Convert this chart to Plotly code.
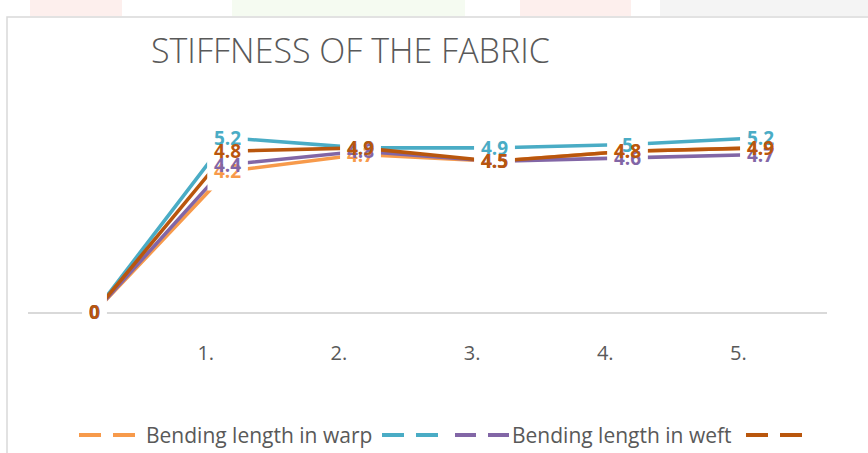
import plotly.graph_objects as go

# Test number (0 = start), values per series
categories = [0, 1, 2, 3, 4, 5]
tick_labels = ["", "1.", "2.", "3.", "4.", "5."]

warp = [0, 4.2, 4.7, 4.5, 4.8, 4.9]
series_b = [0, 5.2, 4.9, 4.9, 5, 5.2]
series_c = [0, 4.4, 4.8, 4.5, 4.6, 4.7]
weft = [0, 4.8, 4.9, 4.5, 4.8, 4.9]

series_names = ["Bending length in warp", "", "Bending length in weft", ""]
series_values = [warp, series_b, series_c, weft]
series_colors = ["#F79A4B", "#4AACC5", "#8266A6", "#B9560D"]

W, H = 868, 453
L, R, T, B = 28, 827, 111, 312  # plot area in pixels


def px(x):
    return (x - L) / (R - L)


def py(y):
    return (B - y) / (B - T)


fig = go.Figure()
for vals, name, col in zip(series_values, series_names, series_colors):
    fig.add_trace(go.Scatter(
        x=categories, y=vals, mode="lines", name=name,
        line=dict(color=col, width=3.6), showlegend=False, hoverinfo="skip",
    ))

annotations = []
label_font = dict(family="Open Sans", size=19, weight="bold")
# white label boxes first, so they break the lines behind every label
for vals, col in zip(series_values, series_colors):
    for x, v in zip(categories, vals):
        annotations.append(dict(
            x=x, y=v, xref="x", yref="y", text=f"{v:g}", showarrow=False,
            font=dict(label_font, color="white"), bgcolor="white", borderpad=6,
        ))
# label texts on top
for vals, col in zip(series_values, series_colors):
    for x, v in zip(categories, vals):
        annotations.append(dict(
            x=x, y=v, xref="x", yref="y", text=f"{v:g}", showarrow=False,
            font=dict(label_font, color=col), borderpad=6,
        ))

# legend: dashed swatches and names along the bottom
legend_y = py(435)
swatches = [(79, 135), (382, 438), (455, 509), (746, 802)]
shapes = []
for (x0, x1), col in zip(swatches, series_colors):
    mid = (x0 + x1) / 2
    for a, b in ((x0, mid - 6), (mid + 6, x1)):
        shapes.append(dict(type="line", xref="paper", yref="paper",
                           x0=px(a), x1=px(b), y0=legend_y, y1=legend_y,
                           line=dict(color=col, width=4)))
legend_text = [(144, "Bending length in warp"), (510, "Bending length in weft")]
for x0, t in legend_text:
    annotations.append(dict(x=px(x0), y=legend_y, xref="paper", yref="paper",
                            text=t, showarrow=False, xanchor="left", yanchor="middle",
                            font=dict(family="Open Sans", size=21, color="#595959")))

# chart title
annotations.append(dict(x=px(350), y=py(50), xref="paper", yref="paper",
                        text="STIFFNESS OF THE FABRIC", showarrow=False,
                        xanchor="center", yanchor="middle",
                        font=dict(family="Open Sans", size=34, weight=300, color="#595959")))

# chart area border
shapes.append(dict(type="rect", xref="paper", yref="paper",
                   x0=px(7), x1=px(900), y0=py(17), y1=py(480),
                   line=dict(color="#D9D9D9", width=1.5), layer="below"))
# faint page marks above the chart area
for x0, x1, col in ((30, 122, "rgba(240,120,110,0.12)"), (232, 465, "rgba(170,220,140,0.12)"),
                    (520, 631, "rgba(240,120,110,0.12)"), (660, 868, "rgba(150,150,150,0.10)")):
    shapes.append(dict(type="rect", xref="paper", yref="paper",
                       x0=px(x0), x1=px(x1), y0=py(0), y1=py(16),
                       line=dict(width=0), fillcolor=col, layer="below"))

fig.update_layout(
    width=W, height=H,
    margin=dict(l=L, r=W - R, t=T, b=H - B),
    paper_bgcolor="white", plot_bgcolor="white",
    showlegend=False,
    annotations=annotations, shapes=shapes,
    xaxis=dict(range=[-0.5, 5.5], tickvals=categories, ticktext=tick_labels,
               showgrid=False, zeroline=False, showline=True,
               linecolor="#D9D9D9", linewidth=2, ticks="",
               ticklabelstandoff=22, ticklabelshift=-22,
               tickfont=dict(family="Open Sans", size=20, color="#595959")),
    yaxis=dict(range=[0, 6], visible=False),
)

fig.write_html("out.html")
